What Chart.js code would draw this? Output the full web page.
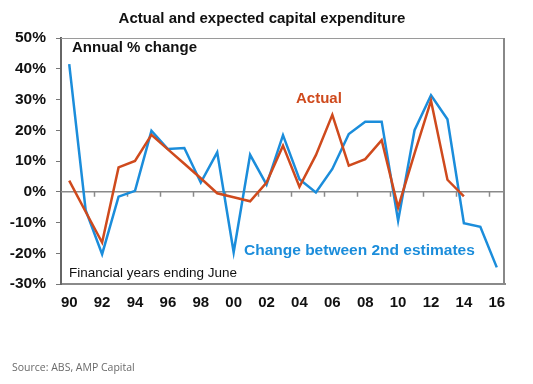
<!DOCTYPE html>
<html>
<head>
<meta charset="utf-8">
<script src="https://cdn.jsdelivr.net/npm/chart.js@4"></script>
<style>
  html, body { margin: 0; padding: 0; background: #fff; }
  #wrap { position: relative; width: 533px; height: 384px; }
</style>
</head>
<body>
<div id="wrap"><canvas id="myChart" width="533" height="384"></canvas></div>
<script>
const years = ["1990", "1991", "1992", "1993", "1994", "1995", "1996", "1997", "1998",
  "1999", "2000", "2001", "2002", "2003", "2004", "2005", "2006", "2007", "2008",
  "2009", "2010", "2011", "2012", "2013", "2014", "2015", "2016"];

// change between 2nd estimates (%)
const estimates = [41.5, -6, -20.3, -1.6, 0.3, 19.8, 13.9, 14.2, 3.0, 12.8, -19.7, 12.0,
  2.3, 18.4, 4.1, -0.2, 7.4, 18.8, 22.8, 22.8, -9.4, 20, 31.4, 23.6, -10.2, -11.4, -24.6];

// actual (%)
const actual = [3.6, -6.5, -16.5, 7.9, 10, 18.5, 13.8, 9.1, 4.4, -0.5, -1.8, -3.1,
  3, 15, 1.6, 11.9, 25, 8.5, 10.6, 16.8, -5.1, 12.5, 29.6, 3.9, -1.5, null, null];

const yTicks = [-30, -20, -10, 0, 10, 20, 30, 40, 50];

const BLUE = "#1b8ddb";
const RED = "#cf4a1d";
const FONT = "'Liberation Sans', Arial, sans-serif";

const decor = {
  id: "decor",
  beforeDatasetsDraw(chart) {
    const { ctx, chartArea: a, scales } = chart;
    ctx.save();
    // frame top/right
    ctx.strokeStyle = "#9a9a9a";
    ctx.lineWidth = 1;
    ctx.beginPath();
    ctx.moveTo(a.left, a.top + 0.5);
    ctx.lineTo(a.right - 0.5, a.top + 0.5);
    ctx.stroke();
    ctx.strokeStyle = "#888";
    ctx.lineWidth = 2;
    ctx.beginPath();
    ctx.moveTo(a.right - 1, a.top);
    ctx.lineTo(a.right - 1, a.bottom);
    ctx.stroke();
    // zero line and its tick marks between year pairs
    const y0 = scales.y.getPixelForValue(0);
    ctx.strokeStyle = "#8a8a8a";
    ctx.lineWidth = 1.5;
    ctx.beginPath();
    ctx.moveTo(a.left, y0);
    ctx.lineTo(a.right, y0);
    ctx.stroke();
    for (let i = 1; i < years.length - 1; i += 2) {
      const x = (scales.x.getPixelForTick(i) + scales.x.getPixelForTick(i + 1)) / 2;
      ctx.beginPath();
      ctx.moveTo(Math.round(x) + 0.5, y0);
      ctx.lineTo(Math.round(x) + 0.5, y0 + 5);
      ctx.stroke();
    }
    ctx.restore();
  },
  afterDraw(chart) {
    const { ctx, chartArea: a } = chart;
    ctx.save();
    ctx.textBaseline = "middle";
    ctx.textAlign = "center";
    ctx.fillStyle = "#111";
    ctx.font = "bold 15px " + FONT;
    ctx.fillText("Actual and expected capital expenditure", 262, 19);
    ctx.textAlign = "left";
    ctx.fillText("Annual % change", a.left + 11, a.top + 10);
    ctx.fillStyle = RED;
    ctx.fillText("Actual", 296, 99);
    ctx.fillStyle = BLUE;
    ctx.font = "bold 15.5px " + FONT;
    ctx.fillText("Change between 2nd estimates", 244, 251);
    ctx.fillStyle = "#111";
    ctx.font = "13.5px " + FONT;
    ctx.fillText("Financial years ending June", a.left + 8, a.bottom - 11);
    ctx.fillStyle = "#6a6a6a";
    ctx.font = "10.5px 'Open Sans', sans-serif";
    ctx.fillText("Source: ABS, AMP Capital", 12, 368);
    ctx.restore();
  }
};

new Chart(document.getElementById("myChart"), {
  type: "line",
  data: {
    labels: years,
    datasets: [
      {
        label: "Actual",
        data: actual,
        borderColor: RED,
        borderWidth: 2.5,
        pointRadius: 0,
        tension: 0,
        order: 0
      },
      {
        label: "Change between 2nd estimates",
        data: estimates,
        borderColor: BLUE,
        borderWidth: 2.5,
        pointRadius: 0,
        tension: 0,
        order: 1
      }
    ]
  },
  options: {
    responsive: false,
    animation: false,
    layout: { padding: { top: 38, right: 28, bottom: 60, left: 0 } },
    plugins: { legend: { display: false }, tooltip: { enabled: false } },
    scales: {
      x: {
        offset: true,
        grid: { display: false, drawTicks: false },
        border: { display: true, color: "#8a8a8a", width: 2 },
        afterFit(scale) { scale.height = 40; },
        ticks: {
          autoSkip: false,
          maxRotation: 0,
          padding: 10,
          color: "#111",
          font: { family: FONT, size: 15, weight: "bold" },
          callback: function(v, i) {
            const yr = years[i];
            return Number(yr) % 2 === 0 ? yr.slice(2) : "";
          }
        }
      },
      y: {
        min: -30,
        max: 50,
        afterFit(scale) { scale.width = 61; },
        afterBuildTicks(scale) { scale.ticks = yTicks.map(v => ({ value: v })); },
        grid: {
          color: "rgba(0,0,0,0)",
          tickColor: "#777",
          tickLength: 5,
          drawOnChartArea: false
        },
        border: { display: true, color: "#666", width: 2 },
        ticks: {
          padding: 10,
          color: "#111",
          font: { family: FONT, size: 15.5, weight: "bold" },
          callback: v => v + "%"
        }
      }
    }
  },
  plugins: [decor]
});
</script>
</body>
</html>
